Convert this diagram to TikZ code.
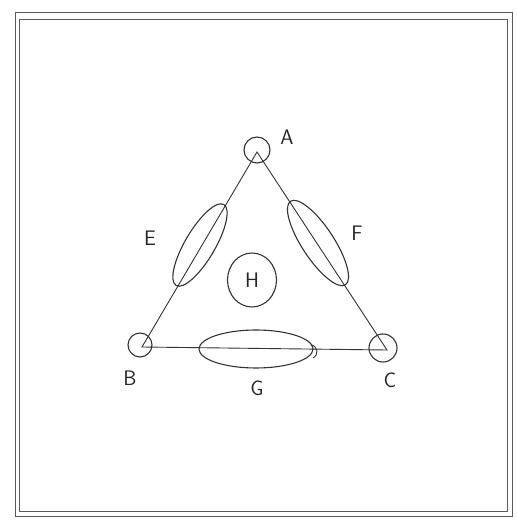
\documentclass[tikz,border=0pt]{standalone}
\usetikzlibrary{shapes.geometric}
\begin{document}
\begin{tikzpicture}[x=1pt,y=1pt,
  ink/.style={draw=black!80, line width=0.9pt},
  framel/.style={draw=black!65, line width=1pt},
  vtx/.style={ink, circle, inner sep=0pt},
  blob/.style={ink, ellipse, inner sep=0pt, line width=1.1pt},
  lbl/.style={font=\fontsize{21}{21}\selectfont\sffamily, text=black!85, inner sep=0pt}]
\useasboundingbox (0,0) rectangle (517,523);
\fill[white] (0,0) rectangle (517,523);
% frame
\draw[framel] (15,510) rectangle (512,6);
\draw[framel] (19,503) rectangle (507,11);
% triangle vertices
\coordinate (vA) at (257,371);
\coordinate (vB) at (142,176);
\coordinate (vC) at (387,173);
\draw[ink] (vA) -- (vB) -- (vC) -- cycle;
% vertex circles
\node[vtx, minimum size=26pt, line width=1.1pt] (cA) at (257,373) {};
\node[vtx, minimum size=24pt, line width=1.1pt] (cB) at (140,178) {};
\node[vtx, minimum size=28pt, line width=1.1pt] (cC) at (383,175) {};
% edge ellipses
\node[blob, minimum width=94pt, minimum height=30pt, rotate=59.5] (eE) at (200,278) {};
\node[blob, minimum width=100pt, minimum height=32pt, rotate=-56.7] (eF) at (318,280) {};
\node[blob, minimum width=114pt, minimum height=38pt] (eG) at (256,174) {};
\node[blob, minimum width=49pt, minimum height=54pt] (eH) at (252,243) {};
% hook at right end of G
\draw[ink] (311,178) .. controls (318,177) and (319,168) .. (313,165);
% labels
\node[lbl] (lA) at (287,386) {A};
\node[lbl] (lB) at (130,145) {B};
\node[lbl] (lC) at (390,143) {C};
\node[lbl] (lE) at (150,285) {E};
\node[lbl] (lF) at (357,290) {F};
\node[lbl] (lG) at (257,135) {G};
\node[lbl] (lH) at (252,243) {H};
\end{tikzpicture}
\end{document}
